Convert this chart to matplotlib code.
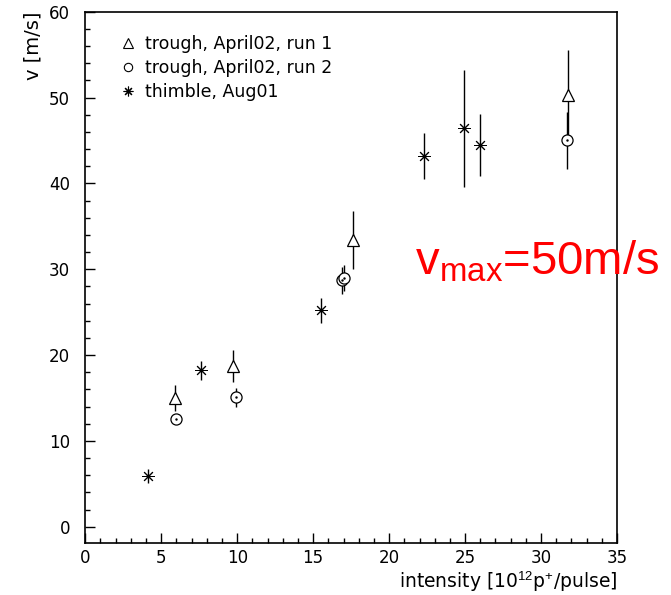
import matplotlib
matplotlib.use("Agg")
import matplotlib.pyplot as plt
from matplotlib.lines import Line2D
from matplotlib.ticker import MultipleLocator

# --- data -------------------------------------------------------------
run1_x = [5.9, 9.7, 17.6, 31.8]
run1_y = [15.0, 18.7, 33.4, 50.3]
run1_err = [1.5, 1.9, 3.4, 5.2]

run2_x = [6.0, 9.9, 16.9, 17.0, 31.7]
run2_y = [12.5, 15.1, 28.7, 29.0, 45.0]
run2_err = [0.4, 1.1, 1.6, 1.5, 3.3]

thim_x = [4.1, 7.6, 15.5, 22.3, 24.9, 26.0]
thim_y = [5.9, 18.2, 25.2, 43.2, 46.4, 44.5]
thim_err = [0.8, 1.1, 1.5, 2.7, 6.8, 3.6]

labels = ["trough, April02, run 1", "trough, April02, run 2", "thimble, Aug01"]
xlabel = r"intensity [10$^{12}$p$^{+}$/pulse]"
ylabel = "v [m/s]"
annotation = r"v$_{\rm max}$=50m/s"

# --- style -------------------------------------------------------------
plt.rcParams['font.family'] = ['DejaVu Sans']
plt.rcParams['mathtext.fontset'] = 'custom'
plt.rcParams['mathtext.rm'] = 'Liberation Sans'

W, H = 671, 595
fig = plt.figure(figsize=(W / 100, H / 100), dpi=100)
left, right, bottom, top = 85.3, 617, 543, 11.7
ax = fig.add_axes([left / W, 1 - bottom / H, (right - left) / W, (bottom - top) / H])

ax.set_xlim(0, 35)
ax.set_ylim(-1.9, 60)
ax.xaxis.set_major_locator(MultipleLocator(5))
ax.xaxis.set_minor_locator(MultipleLocator(1))
ax.yaxis.set_major_locator(MultipleLocator(10))
ax.yaxis.set_minor_locator(MultipleLocator(2))
ax.tick_params(which='both', direction='in', top=False, right=False, width=1.0,
               labelsize=12, colors='black')
ax.tick_params(which='major', length=7)
ax.tick_params(which='minor', length=3.5)
ax.tick_params(axis='y', which='major', pad=11)
ax.tick_params(axis='x', which='major', pad=4)
for s in ax.spines.values():
    s.set_linewidth(1.2)

eb_kw = dict(fmt='none', ecolor='black', elinewidth=1.0, capsize=0, zorder=2)
ax.errorbar(run1_x, run1_y, yerr=run1_err, **eb_kw)
ax.errorbar(run2_x, run2_y, yerr=run2_err, **eb_kw)
ax.errorbar(thim_x, thim_y, yerr=thim_err, **eb_kw)

ax.plot(run1_x, run1_y, ls='none', marker='^', ms=9, mfc='white', mec='black', mew=0.9, zorder=3)
ax.plot(run2_x, run2_y, ls='none', marker='o', ms=8, mfc='white', mec='black', mew=0.9, zorder=3)
ax.plot(run2_x, run2_y, ls='none', marker='.', ms=1.5, color='black', zorder=4)
ax.plot(thim_x, thim_y, ls='none', marker=(8, 2, 0), ms=9, color='black', mew=0.7, zorder=3)
ax.plot(thim_x, thim_y, ls='none', marker='s', ms=1.8, color='black', zorder=4)

handles = [
    Line2D([], [], ls='none', marker='^', ms=6.5, mfc='white', mec='black', mew=0.8),
    Line2D([], [], ls='none', marker='o', ms=6, mfc='white', mec='black', mew=0.8),
    Line2D([], [], ls='none', marker=(8, 2, 0), ms=7, color='black', mew=0.8),
]
ax.legend(handles, labels, loc='upper left',
          bbox_to_anchor=((119 - left) / (right - left), (bottom - 35) / (bottom - top)),
          frameon=False, fontsize=12.5, handlelength=1.0, handletextpad=0.5,
          labelspacing=0.35, borderaxespad=0, borderpad=0)

fig.text(right / W, 1 - 588 / H, xlabel, ha='right', va='baseline', fontsize=13.5)
fig.text(33 / W, 1 - 12 / H, ylabel, ha='center', va='top', rotation=90, fontsize=14)

fig.text(415 / W, 1 - 275 / H, annotation, ha='left', va='baseline', color='red',
         fontsize=34, family='Liberation Sans')

fig.savefig("out.png", dpi=100)
